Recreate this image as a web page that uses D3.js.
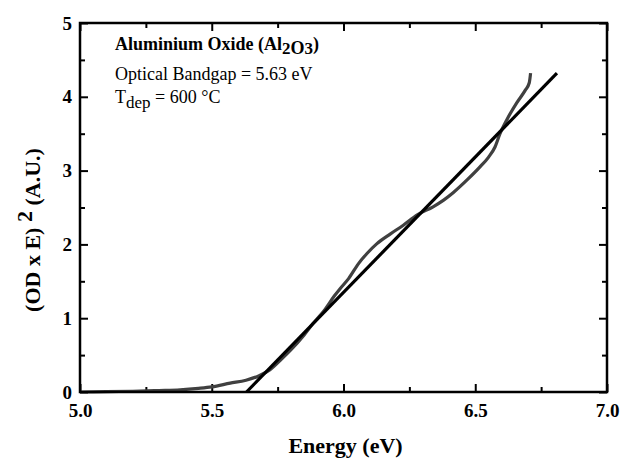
<!DOCTYPE html>
<html lang="en">
  <head>
    <meta charset="utf-8">
    <title>Optical bandgap - Al2O3</title>
    <script src="https://d3js.org/d3.v7.min.js"></script>
    <style>
      body { margin: 0; background: #fff; }
      text { font-family: "Liberation Serif", "Times New Roman", serif; fill: #000; }
      .tick text { font-weight: bold; font-size: 19px; }
      .axis path.domain { display: none; }
      .axis line { stroke: #000; stroke-width: 2; }
    </style>
  </head>
  <body>
    <div id="chart"></div>
    <script>
      var w = 621;
      var h = 465;

      // measured curve (OD x E)^2 vs energy
      var energy = [5.00, 5.10, 5.20, 5.30, 5.38, 5.45, 5.50, 5.57, 5.63, 5.68, 5.72, 5.76, 5.80,
                    5.85, 5.885, 5.93, 5.965, 5.987, 6.02, 6.057, 6.09, 6.127, 6.177, 6.227, 6.28,
                    6.34, 6.38, 6.416, 6.468, 6.518, 6.55, 6.575, 6.594, 6.62, 6.658, 6.69, 6.705, 6.71];
      var odE2 = [0.00, 0.005, 0.01, 0.02, 0.03, 0.05, 0.07, 0.12, 0.16, 0.22, 0.30, 0.43, 0.57,
                  0.77, 0.93, 1.12, 1.30, 1.40, 1.54, 1.74, 1.88, 2.01, 2.14, 2.26, 2.40,
                  2.51, 2.60, 2.70, 2.87, 3.05, 3.18, 3.32, 3.50, 3.69, 3.92, 4.09, 4.19, 4.32];

      // linear fit (extrapolated to 5.63 eV)
      var fitEnergy = [5.632, 6.81];
      var fitValue = [0, 4.32];

      var xTicks = [5.0, 5.5, 6.0, 6.5, 7.0];
      var xMinor = [5.25, 5.75, 6.25, 6.75];
      var yTicks = [0, 1, 2, 3, 4, 5];
      var yMinor = [0.5, 1.5, 2.5, 3.5, 4.5];

      var m = {left: 80, right: 14, top: 23, bottom: 73};

      var svg = d3.select("#chart")
                  .append("svg")
                  .attr("width", w)
                  .attr("height", h);

      var x = d3.scaleLinear().domain([5, 7]).range([m.left, w - m.right]);
      var y = d3.scaleLinear().domain([0, 5]).range([h - m.bottom, m.top]);

      // axes, ticks pointing inward
      svg.append("g").attr("class", "axis")
         .attr("transform", "translate(0," + y(0) + ")")
         .call(d3.axisBottom(x).tickValues(xTicks).tickSize(-8).tickPadding(12)
               .tickFormat(d3.format(".1f")));
      svg.append("g").attr("class", "axis")
         .attr("transform", "translate(0," + y(0) + ")")
         .call(d3.axisBottom(x).tickValues(xMinor).tickSize(-5).tickFormat(""));
      svg.append("g").attr("class", "axis")
         .attr("transform", "translate(0," + y(5) + ")")
         .call(d3.axisTop(x).tickValues(xTicks).tickSize(-8).tickFormat(""));
      svg.append("g").attr("class", "axis")
         .attr("transform", "translate(0," + y(5) + ")")
         .call(d3.axisTop(x).tickValues(xMinor).tickSize(-5).tickFormat(""));

      svg.append("g").attr("class", "axis")
         .attr("transform", "translate(" + x(5) + ",0)")
         .call(d3.axisLeft(y).tickValues(yTicks).tickSize(-8).tickPadding(8)
               .tickFormat(d3.format("d")));
      svg.append("g").attr("class", "axis")
         .attr("transform", "translate(" + x(5) + ",0)")
         .call(d3.axisLeft(y).tickValues(yMinor).tickSize(-5).tickFormat(""));
      svg.append("g").attr("class", "axis")
         .attr("transform", "translate(" + x(7) + ",0)")
         .call(d3.axisRight(y).tickValues(yTicks).tickSize(-8).tickFormat(""));
      svg.append("g").attr("class", "axis")
         .attr("transform", "translate(" + x(7) + ",0)")
         .call(d3.axisRight(y).tickValues(yMinor).tickSize(-5).tickFormat(""));

      var line = d3.line()
                   .x(function(d) { return x(d[0]); })
                   .y(function(d) { return y(d[1]); });

      svg.append("path")
         .datum(d3.zip(energy, odE2))
         .attr("d", line.curve(d3.curveMonotoneX))
         .attr("fill", "none")
         .attr("stroke", "#404040")
         .attr("stroke-width", 3.2)
         .attr("stroke-linejoin", "round");

      svg.append("path")
         .datum(d3.zip(fitEnergy, fitValue))
         .attr("d", d3.line().x(function(d) { return x(d[0]); }).y(function(d) { return y(d[1]); }))
         .attr("fill", "none")
         .attr("stroke", "#000")
         .attr("stroke-width", 3.2);

      // frame
      svg.append("rect")
         .attr("x", x(5)).attr("y", y(5))
         .attr("width", x(7) - x(5)).attr("height", y(0) - y(5))
         .attr("fill", "none")
         .attr("stroke", "#000")
         .attr("stroke-width", 2.5);

      // axis titles
      svg.append("text")
         .attr("x", (x(5) + x(7)) / 2 + 2)
         .attr("y", 453)
         .attr("text-anchor", "middle")
         .style("font-weight", "bold")
         .style("font-size", "22px")
         .text("Energy (eV)");

      var yt = svg.append("text")
         .attr("transform", "translate(40,230) rotate(-90)")
         .attr("text-anchor", "middle")
         .style("font-weight", "bold")
         .style("font-size", "22px");
      yt.append("tspan").text("(OD x E) ");
      yt.append("tspan").attr("dy", -8).text("2");
      yt.append("tspan").attr("dy", 8).text(" (A.U.)");

      // annotation
      var t1 = svg.append("text")
         .attr("x", 115).attr("y", 50)
         .style("font-weight", "bold")
         .style("font-size", "18px");
      t1.append("tspan").text("Aluminium Oxide (Al");
      t1.append("tspan").attr("dy", 4).style("font-size", "17px").text("2");
      t1.append("tspan").attr("dy", 0).text("O");
      t1.append("tspan").attr("dy", 0).style("font-size", "17px").text("3");
      t1.append("tspan").attr("dy", -4).text(")");

      svg.append("text")
         .attr("x", 115).attr("y", 80)
         .style("font-size", "18px")
         .text("Optical Bandgap = 5.63 eV");

      var t3 = svg.append("text")
         .attr("x", 115).attr("y", 103)
         .style("font-size", "18px");
      t3.append("tspan").text("T");
      t3.append("tspan").attr("dy", 5).style("font-size", "17px").text("dep");
      t3.append("tspan").attr("dy", -5).text(" = 600 \u00B0C");
    </script>
  </body>
</html>
